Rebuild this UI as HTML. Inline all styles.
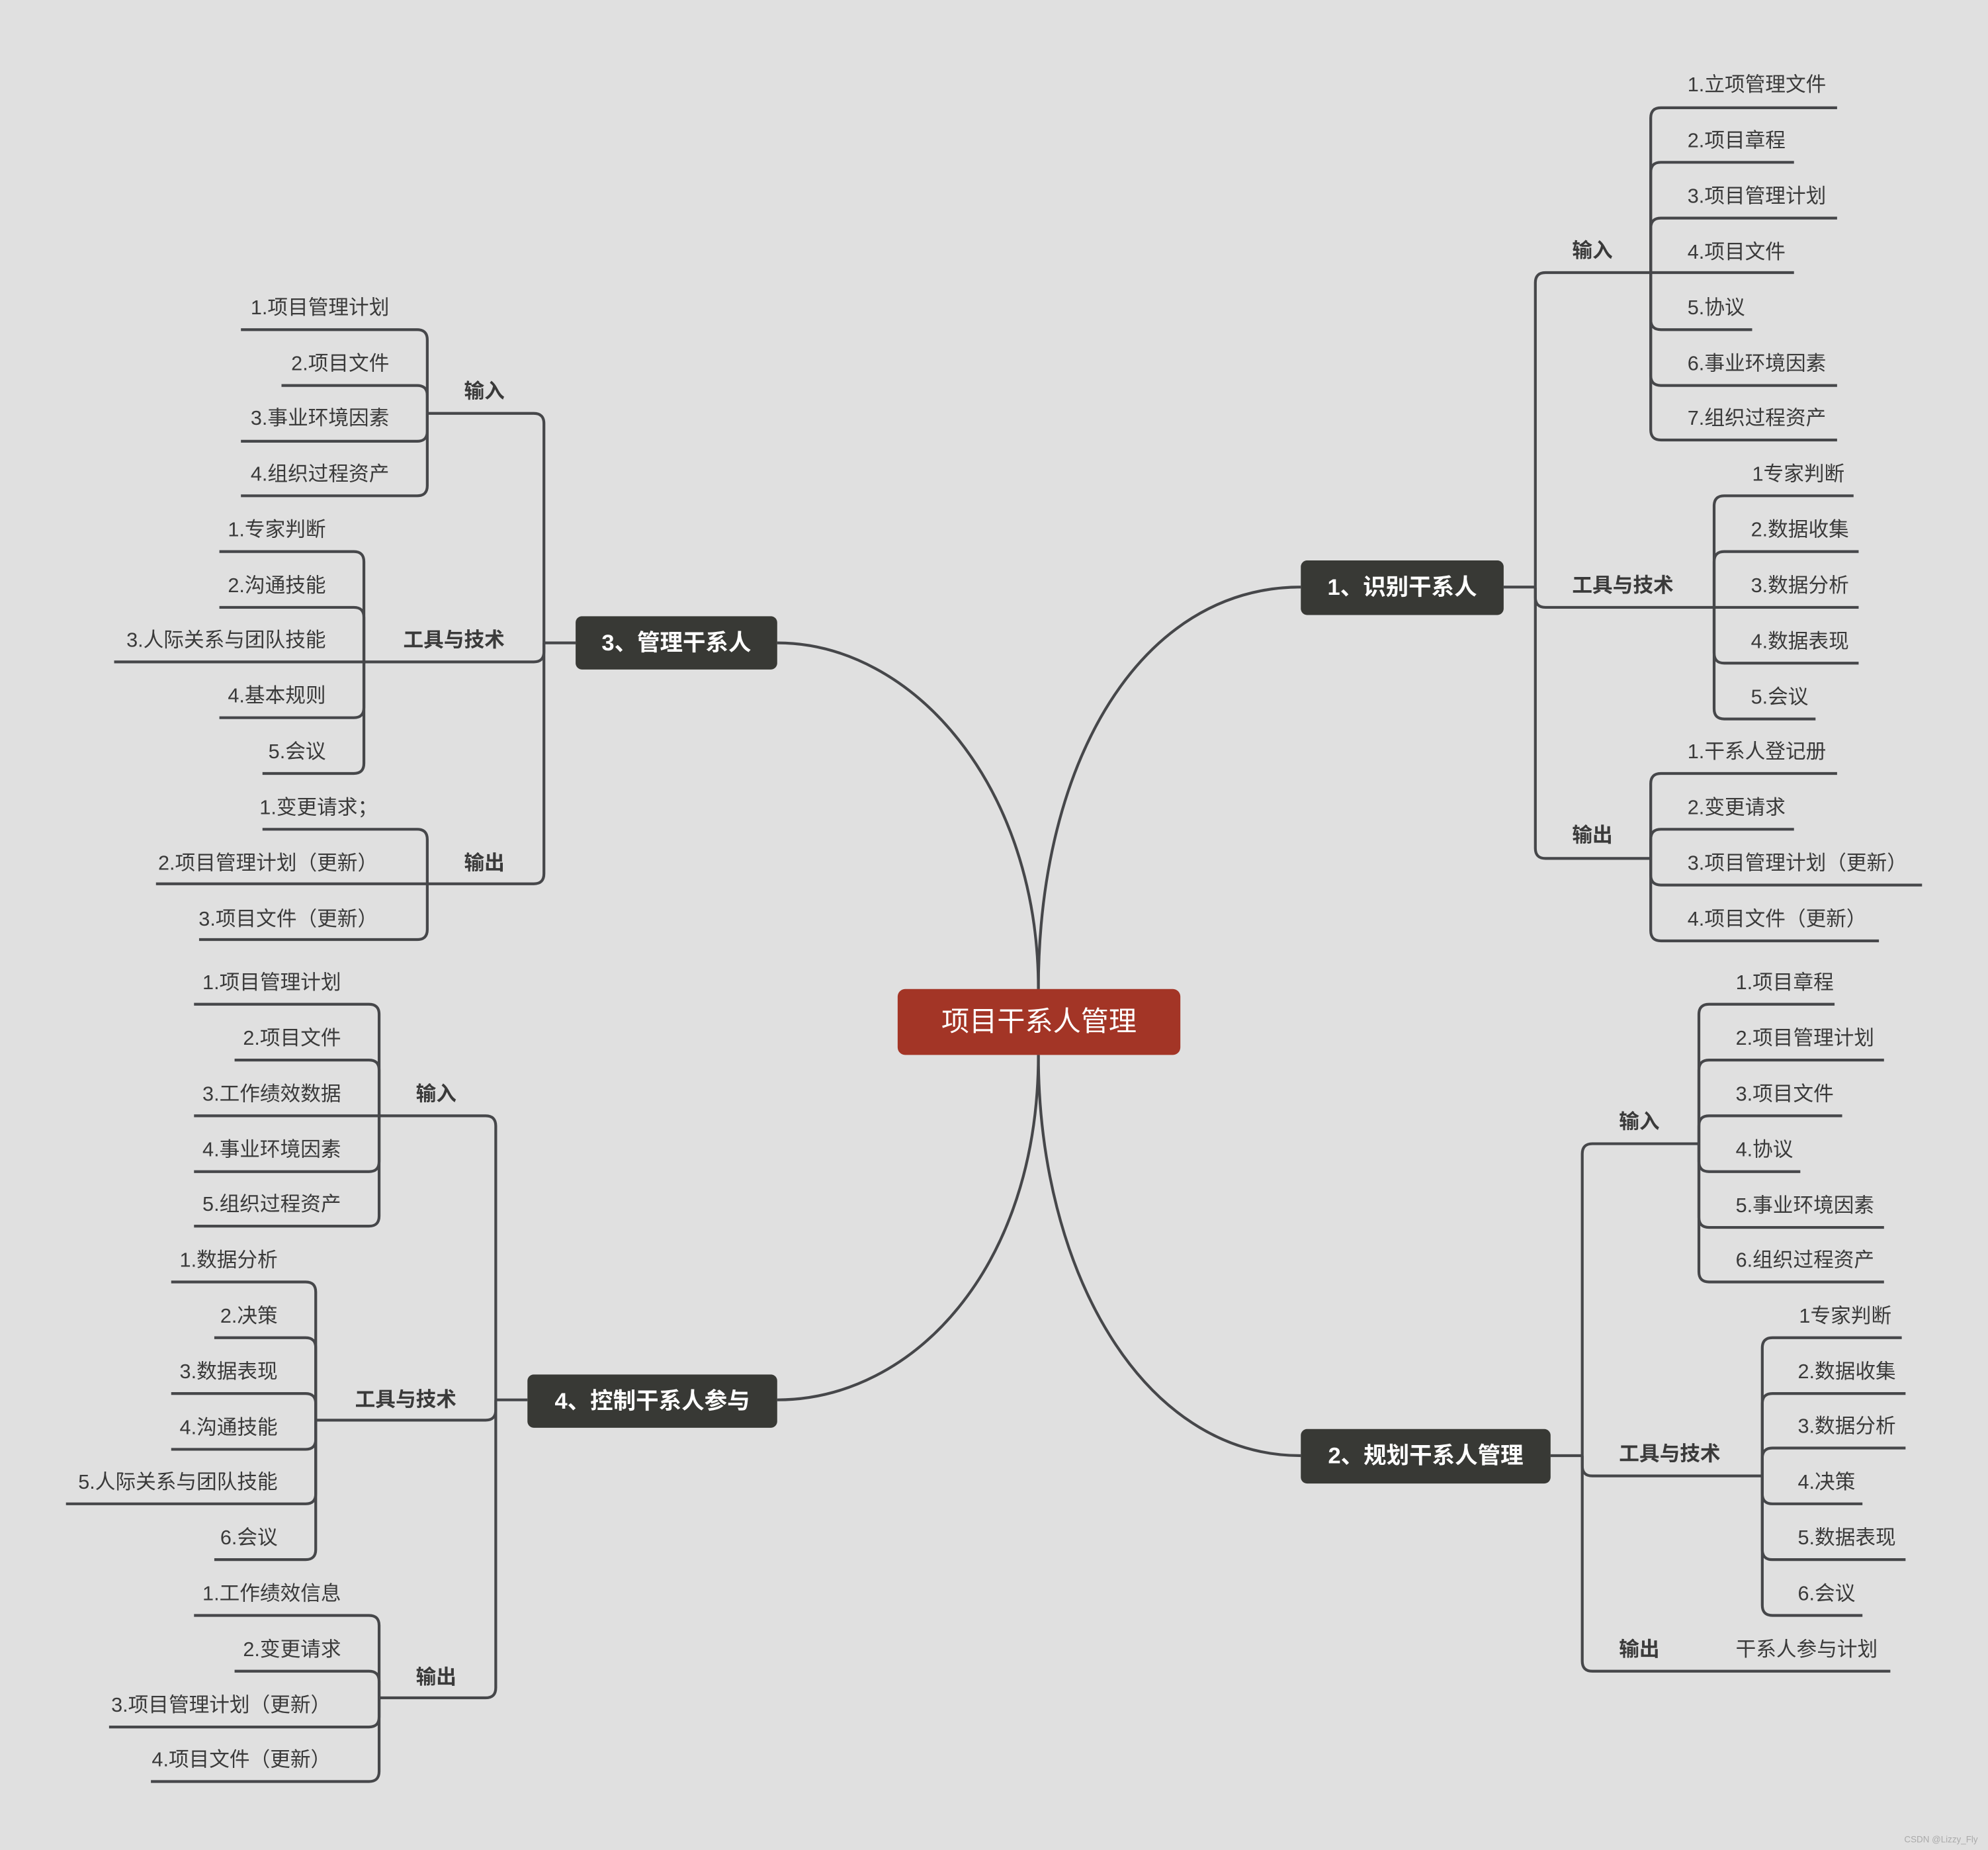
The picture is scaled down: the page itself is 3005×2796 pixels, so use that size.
<!DOCTYPE html>
<html><head><meta charset="utf-8">
<style>
html,body{margin:0;padding:0;background:#e0e0e0;}
svg{display:block;}
text{font-family:"Liberation Sans","Noto Sans CJK SC",sans-serif;fill:#3a3a3a;font-size:16px;}
.b{font-weight:bold;}
.n{fill:#fff;font-weight:bold;font-size:18px;}
.l path{fill:none;stroke:#46474a;stroke-width:2.2;}
</style></head><body>
<svg width="3005" height="2796" viewBox="0 0 1568 1459" xmlns="http://www.w3.org/2000/svg">
<rect width="1568" height="1459" fill="#e0e0e0"/>
<g class="l">
<!-- main curves -->
<path d="M819,780 C819,600 900,463 1026,463"/>
<path d="M819,780 C819,620 720,507 613,507"/>
<path d="M819,832 C819,1000 720,1104 613,1104"/>
<path d="M819,832 C819,1000 900,1148 1026,1148"/>
<!-- node1 -->
<path d="M1186,463 H1211"/>
<path d="M1211,463 V223 Q1211,215 1219,215 H1302"/>
<path d="M1211,463 V471 Q1211,479 1219,479 H1352"/>
<path d="M1211,463 V669 Q1211,677 1219,677 H1302"/>
<path d="M1302,215 V93 Q1302,85 1310,85 H1449"/>
<path d="M1302,215 V136 Q1302,128 1310,128 H1415"/>
<path d="M1302,215 V180 Q1302,172 1310,172 H1449"/>
<path d="M1302,215 H1415"/>
<path d="M1302,215 V252 Q1302,260 1310,260 H1382"/>
<path d="M1302,215 V296 Q1302,304 1310,304 H1449"/>
<path d="M1302,215 V339 Q1302,347 1310,347 H1449"/>
<path d="M1352,479 V399 Q1352,391 1360,391 H1462"/>
<path d="M1352,479 V443 Q1352,435 1360,435 H1466"/>
<path d="M1352,479 H1466"/>
<path d="M1352,479 V515 Q1352,523 1360,523 H1466"/>
<path d="M1352,479 V559 Q1352,567 1360,567 H1432"/>
<path d="M1302,677 V618 Q1302,610 1310,610 H1449"/>
<path d="M1302,677 V662 Q1302,654 1310,654 H1415"/>
<path d="M1302,677 V690 Q1302,698 1310,698 H1516"/>
<path d="M1302,677 V734 Q1302,742 1310,742 H1482"/>
<!-- node2 -->
<path d="M1223,1148 H1248"/>
<path d="M1248,1148 V910 Q1248,902 1256,902 H1340"/>
<path d="M1248,1148 V1156 Q1248,1164 1256,1164 H1390"/>
<path d="M1248,1148 V1310 Q1248,1318 1256,1318 H1491"/>
<path d="M1340,902 V800 Q1340,792 1348,792 H1447"/>
<path d="M1340,902 V844 Q1340,836 1348,836 H1486"/>
<path d="M1340,902 V888 Q1340,880 1348,880 H1453"/>
<path d="M1340,902 V916 Q1340,924 1348,924 H1420"/>
<path d="M1340,902 V960 Q1340,968 1348,968 H1486"/>
<path d="M1340,902 V1003 Q1340,1011 1348,1011 H1486"/>
<path d="M1390,1164 V1063 Q1390,1055 1398,1055 H1500"/>
<path d="M1390,1164 V1107 Q1390,1099 1398,1099 H1503"/>
<path d="M1390,1164 V1150 Q1390,1142 1398,1142 H1503"/>
<path d="M1390,1164 V1178 Q1390,1186 1398,1186 H1469"/>
<path d="M1390,1164 V1222 Q1390,1230 1398,1230 H1503"/>
<path d="M1390,1164 V1266 Q1390,1274 1398,1274 H1469"/>
<!-- node3 -->
<path d="M454,507 H429"/>
<path d="M429,507 V334 Q429,326 421,326 H337"/>
<path d="M429,507 V514 Q429,522 421,522 H287"/>
<path d="M429,507 V689 Q429,697 421,697 H337"/>
<path d="M337,326 V268 Q337,260 329,260 H190"/>
<path d="M337,326 V312 Q337,304 329,304 H222"/>
<path d="M337,326 V340 Q337,348 329,348 H190"/>
<path d="M337,326 V383 Q337,391 329,391 H190"/>
<path d="M287,522 V443 Q287,435 279,435 H173"/>
<path d="M287,522 V487 Q287,479 279,479 H173"/>
<path d="M287,522 H90"/>
<path d="M287,522 V558 Q287,566 279,566 H173"/>
<path d="M287,522 V602 Q287,610 279,610 H207"/>
<path d="M337,697 V662 Q337,654 329,654 H207"/>
<path d="M337,697 H123"/>
<path d="M337,697 V733 Q337,741 329,741 H157"/>
<!-- node4 -->
<path d="M416,1104 H391"/>
<path d="M391,1104 V888 Q391,880 383,880 H299"/>
<path d="M391,1104 V1112 Q391,1120 383,1120 H249"/>
<path d="M391,1104 V1331 Q391,1339 383,1339 H299"/>
<path d="M299,880 V800 Q299,792 291,792 H153"/>
<path d="M299,880 V844 Q299,836 291,836 H185"/>
<path d="M299,880 H153"/>
<path d="M299,880 V916 Q299,924 291,924 H153"/>
<path d="M299,880 V959 Q299,967 291,967 H153"/>
<path d="M249,1120 V1019 Q249,1011 241,1011 H135"/>
<path d="M249,1120 V1063 Q249,1055 241,1055 H169"/>
<path d="M249,1120 V1107 Q249,1099 241,1099 H135"/>
<path d="M249,1120 V1135 Q249,1143 241,1143 H135"/>
<path d="M249,1120 V1178 Q249,1186 241,1186 H52"/>
<path d="M249,1120 V1222 Q249,1230 241,1230 H169"/>
<path d="M299,1339 V1282 Q299,1274 291,1274 H153"/>
<path d="M299,1339 V1326 Q299,1318 291,1318 H185"/>
<path d="M299,1339 V1354 Q299,1362 291,1362 H86"/>
<path d="M299,1339 V1397 Q299,1405 291,1405 H119"/>
</g>

<!-- nodes -->
<rect x="708" y="780" width="223" height="52" rx="6" fill="#a33526"/>
<text x="819.5" y="813" text-anchor="middle" style="fill:#fff;font-size:22px">项目干系人管理</text>
<rect x="1026" y="442" width="160" height="43" rx="5" fill="#383935"/>
<text x="1106" y="469" text-anchor="middle" class="n">1、识别干系人</text>
<rect x="454" y="486" width="159" height="42" rx="5" fill="#383935"/>
<text x="533.5" y="513" text-anchor="middle" class="n">3、管理干系人</text>
<rect x="416" y="1084" width="197" height="42" rx="5" fill="#383935"/>
<text x="514.5" y="1111" text-anchor="middle" class="n">4、控制干系人参与</text>
<rect x="1026" y="1127" width="197" height="43" rx="5" fill="#383935"/>
<text x="1124.5" y="1154" text-anchor="middle" class="n">2、规划干系人管理</text>

<!-- node1 texts -->
<text x="1240" y="203" class="b">输入</text>
<text x="1240" y="467" class="b">工具与技术</text>
<text x="1240" y="664" class="b">输出</text>
<text x="1331" y="72">1.立项管理文件</text>
<text x="1331" y="116">2.项目章程</text>
<text x="1331" y="160">3.项目管理计划</text>
<text x="1331" y="204">4.项目文件</text>
<text x="1331" y="248">5.协议</text>
<text x="1331" y="292">6.事业环境因素</text>
<text x="1331" y="335">7.组织过程资产</text>
<text x="1382" y="379">1专家判断</text>
<text x="1381" y="423">2.数据收集</text>
<text x="1381" y="467">3.数据分析</text>
<text x="1381" y="511">4.数据表现</text>
<text x="1381" y="555">5.会议</text>
<text x="1331" y="598">1.干系人登记册</text>
<text x="1331" y="642">2.变更请求</text>
<text x="1331" y="686">3.项目管理计划（更新）</text>
<text x="1331" y="730">4.项目文件（更新）</text>

<!-- node2 texts -->
<text x="1277" y="890" class="b">输入</text>
<text x="1277" y="1152" class="b">工具与技术</text>
<text x="1277" y="1306" class="b">输出</text>
<text x="1369" y="780">1.项目章程</text>
<text x="1369" y="824">2.项目管理计划</text>
<text x="1369" y="868">3.项目文件</text>
<text x="1369" y="912">4.协议</text>
<text x="1369" y="956">5.事业环境因素</text>
<text x="1369" y="999">6.组织过程资产</text>
<text x="1419" y="1043">1专家判断</text>
<text x="1418" y="1087">2.数据收集</text>
<text x="1418" y="1130">3.数据分析</text>
<text x="1418" y="1174">4.决策</text>
<text x="1418" y="1218">5.数据表现</text>
<text x="1418" y="1262">6.会议</text>
<text x="1369" y="1306">干系人参与计划</text>

<!-- node3 texts -->
<text x="398" y="314" text-anchor="end" class="b">输入</text>
<text x="398" y="510" text-anchor="end" class="b">工具与技术</text>
<text x="398" y="686" text-anchor="end" class="b">输出</text>
<g text-anchor="end">
<text x="307" y="248">1.项目管理计划</text>
<text x="307" y="292">2.项目文件</text>
<text x="307" y="335">3.事业环境因素</text>
<text x="307" y="379">4.组织过程资产</text>
<text x="257" y="423">1.专家判断</text>
<text x="257" y="467">2.沟通技能</text>
<text x="257" y="510">3.人际关系与团队技能</text>
<text x="257" y="554">4.基本规则</text>
<text x="257" y="598">5.会议</text>
<text x="298" y="642">1.变更请求；</text>
<text x="298" y="686">2.项目管理计划（更新）</text>
<text x="298" y="730">3.项目文件（更新）</text>
<!-- node4 texts -->
<text x="360" y="868" class="b">输入</text>
<text x="360" y="1109" class="b">工具与技术</text>
<text x="360" y="1328" class="b">输出</text>
<text x="269" y="780">1.项目管理计划</text>
<text x="269" y="824">2.项目文件</text>
<text x="269" y="868">3.工作绩效数据</text>
<text x="269" y="912">4.事业环境因素</text>
<text x="269" y="955">5.组织过程资产</text>
<text x="219" y="999">1.数据分析</text>
<text x="219" y="1043">2.决策</text>
<text x="219" y="1087">3.数据表现</text>
<text x="219" y="1131">4.沟通技能</text>
<text x="219" y="1174">5.人际关系与团队技能</text>
<text x="219" y="1218">6.会议</text>
<text x="269" y="1262">1.工作绩效信息</text>
<text x="269" y="1306">2.变更请求</text>
<text x="261" y="1350">3.项目管理计划（更新）</text>
<text x="261" y="1393">4.项目文件（更新）</text>
<text x="1560" y="1453" style="font-size:7px;fill:#aaa">CSDN @Lizzy_Fly</text>
</g>
</svg>
</body></html>
